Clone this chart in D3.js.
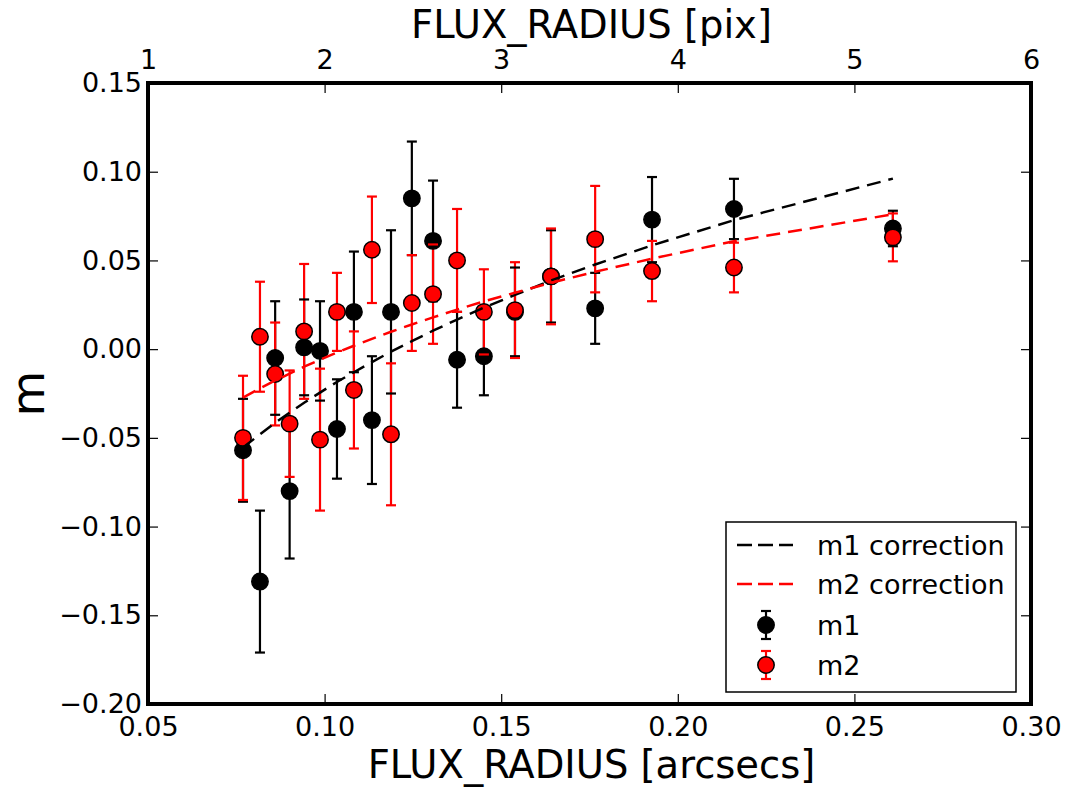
<!DOCTYPE html>
<html>
<head>
<meta charset="utf-8">
<script src="https://cdn.jsdelivr.net/npm/d3@7"></script>
<style>
  html, body { margin: 0; padding: 0; background: #fff; }
  svg { display: block; font-family: "DejaVu Sans", sans-serif; }
</style>
</head>
<body>
<svg id="chart" width="1067" height="787"></svg>
<script>
// ---- data ----
const fluxRadius = [0.0769, 0.0817, 0.0860, 0.0901, 0.0942, 0.0987, 0.1035, 0.1083, 0.1134, 0.1188,
                    0.1247, 0.1307, 0.1375, 0.1451, 0.1539, 0.1641, 0.1766, 0.1927, 0.2159, 0.2609];
const m1Values = [-0.057, -0.131, -0.005, -0.080, 0.001, -0.001, -0.045, 0.021, -0.040, 0.021,
                  0.085, 0.061, -0.006, -0.004, 0.021, 0.041, 0.023, 0.073, 0.079, 0.068];
const m1Errors = [0.029, 0.040, 0.032, 0.038, 0.027, 0.028, 0.028, 0.034, 0.036, 0.046,
                  0.032, 0.034, 0.027, 0.022, 0.025, 0.026, 0.020, 0.024, 0.017, 0.010];
const m2Values = [-0.050, 0.007, -0.014, -0.042, 0.010, -0.051, 0.021, -0.023, 0.056, -0.048,
                  0.026, 0.031, 0.050, 0.021, 0.022, 0.041, 0.062, 0.044, 0.046, 0.063];
const m2Errors = [0.035, 0.031, 0.029, 0.030, 0.038, 0.040, 0.022, 0.033, 0.030, 0.040,
                  0.027, 0.028, 0.029, 0.024, 0.027, 0.027, 0.030, 0.017, 0.014, 0.0135];
const m1Correction = [-0.0554, -0.0480, -0.0415, -0.0358, -0.0302, -0.0245, -0.0185, -0.0130, -0.0073, -0.0014,
                      0.0045, 0.0104, 0.0167, 0.0234, 0.0306, 0.0387, 0.0477, 0.0585, 0.0727, 0.0961];
const m2Correction = [-0.0273, -0.0221, -0.0177, -0.0138, -0.0099, -0.0060, -0.0019, 0.0019, 0.0058, 0.0098,
                      0.0139, 0.0179, 0.0223, 0.0269, 0.0318, 0.0374, 0.0436, 0.0510, 0.0608, 0.0760];

const xTicks = [0.05, 0.10, 0.15, 0.20, 0.25, 0.30];
const xTickLabels = ["0.05", "0.10", "0.15", "0.20", "0.25", "0.30"];
const pixTicks = [1, 2, 3, 4, 5, 6];
const pixTickLabels = ["1", "2", "3", "4", "5", "6"];
const yTicks = [-0.20, -0.15, -0.10, -0.05, 0.00, 0.05, 0.10, 0.15];
const yTickLabels = ["\u22120.20", "\u22120.15", "\u22120.10", "\u22120.05", "0.00", "0.05", "0.10", "0.15"];
const legendLabels = ["m1 correction", "m2 correction", "m1", "m2"];

// ---- layout ----
const L = 148, R = 1031, T = 83, B = 704;
const svg = d3.select("#chart");

const x = d3.scaleLinear().domain([0.05, 0.30]).range([L, R]);
const xPix = d3.scaleLinear().domain([1, 6]).range([L, R]);
const y = d3.scaleLinear().domain([-0.20, 0.15]).range([B, T]);

const FONT = 27;

// axes
const gB = svg.append("g").attr("transform", `translate(0,${B})`)
  .call(d3.axisBottom(x).tickValues(xTicks).tickFormat((d, i) => xTickLabels[i])
        .tickSizeInner(-10).tickSizeOuter(0).tickPadding(13));
const gT = svg.append("g").attr("transform", `translate(0,${T})`)
  .call(d3.axisTop(xPix).tickValues(pixTicks).tickFormat((d, i) => pixTickLabels[i])
        .tickSizeInner(-10).tickSizeOuter(0).tickPadding(14));
const gL = svg.append("g").attr("transform", `translate(${L},0)`)
  .call(d3.axisLeft(y).tickValues(yTicks).tickFormat((d, i) => yTickLabels[i])
        .tickSizeInner(-10).tickSizeOuter(0).tickPadding(6));
const gR = svg.append("g").attr("transform", `translate(${R},0)`)
  .call(d3.axisRight(y).tickValues(yTicks).tickFormat("")
        .tickSizeInner(-10).tickSizeOuter(0));
[gB, gT, gL, gR].forEach(g => {
  g.select(".domain").remove();
  g.selectAll(".tick line").attr("stroke", "#000").attr("stroke-width", 1.2);
  g.selectAll(".tick text").attr("font-size", FONT).attr("fill", "#000")
    .attr("font-family", "DejaVu Sans, sans-serif");
});

// axis titles
svg.append("text").attr("x", (L + R) / 2 + 2).attr("y", 778).attr("text-anchor", "middle")
  .attr("font-size", 38.5).text("FLUX_RADIUS [arcsecs]");
svg.append("text").attr("x", (L + R) / 2 + 2).attr("y", 38).attr("text-anchor", "middle")
  .attr("font-size", 38.5).text("FLUX_RADIUS [pix]");
svg.append("text").attr("transform", `translate(44,${(T + B) / 2}) rotate(-90)`)
  .attr("text-anchor", "middle").attr("font-size", 47).text("m");

// data
const plot = svg.append("g");
const series = [
  { vals: m1Values, errs: m1Errors, color: "#000000" },
  { vals: m2Values, errs: m2Errors, color: "#ff0000" }
];
const CAP = 5, RAD = 8.2;

// bars first (collections)
series.forEach(s => {
  plot.append("g").selectAll("line").data(fluxRadius).join("line")
    .attr("x1", d => x(d)).attr("x2", d => x(d))
    .attr("y1", (d, i) => y(s.vals[i] + s.errs[i]))
    .attr("y2", (d, i) => y(s.vals[i] - s.errs[i]))
    .attr("stroke", s.color).attr("stroke-width", 2.2);
});
// markers + caps
series.forEach(s => {
  plot.append("g").selectAll("circle").data(fluxRadius).join("circle")
    .attr("cx", d => x(d)).attr("cy", (d, i) => y(s.vals[i]))
    .attr("r", RAD).attr("fill", s.color).attr("stroke", "#000").attr("stroke-width", 1.5);
  const caps = plot.append("g");
  [1, -1].forEach(sign => {
    caps.append("g").selectAll("line").data(fluxRadius).join("line")
      .attr("x1", d => x(d) - CAP).attr("x2", d => x(d) + CAP)
      .attr("y1", (d, i) => y(s.vals[i] + sign * s.errs[i]))
      .attr("y2", (d, i) => y(s.vals[i] + sign * s.errs[i]))
      .attr("stroke", s.color).attr("stroke-width", 2.2);
  });
});

// correction lines
const DASH = "14,8";
[[m1Correction, "#000000"], [m2Correction, "#ff0000"]].forEach(([vals, col]) => {
  const line = d3.line().x(d => x(d[0])).y(d => y(d[1]));
  plot.append("path").datum(fluxRadius.map((d, i) => [d, vals[i]]))
    .attr("d", line).attr("fill", "none").attr("stroke", col)
    .attr("stroke-width", 2.5).attr("stroke-dasharray", DASH);
});

// frame
svg.append("rect").attr("x", L).attr("y", T).attr("width", R - L).attr("height", B - T)
  .attr("fill", "none").attr("stroke", "#000").attr("stroke-width", 4);

// legend
const lg = svg.append("g");
lg.append("rect").attr("x", 726).attr("y", 522).attr("width", 290).attr("height", 170)
  .attr("fill", "#fff").attr("stroke", "#000").attr("stroke-width", 1.5);
const rowsY = [545, 584, 625, 665];
const rowColors = ["#000000", "#ff0000", "#000000", "#ff0000"];
legendLabels.forEach((lab, i) => {
  const cy = rowsY[i];
  if (i < 2) {
    lg.append("line").attr("x1", 737).attr("x2", 793).attr("y1", cy).attr("y2", cy)
      .attr("stroke", rowColors[i]).attr("stroke-width", 2.5).attr("stroke-dasharray", "15,6");
  } else {
    const cx = 766;
    lg.append("line").attr("x1", cx).attr("x2", cx).attr("y1", cy - 14).attr("y2", cy + 14)
      .attr("stroke", rowColors[i]).attr("stroke-width", 2.2);
    [-14, 14].forEach(o => lg.append("line").attr("x1", cx - CAP).attr("x2", cx + CAP)
      .attr("y1", cy + o).attr("y2", cy + o).attr("stroke", rowColors[i]).attr("stroke-width", 2.2));
    lg.append("circle").attr("cx", cx).attr("cy", cy).attr("r", RAD)
      .attr("fill", rowColors[i]).attr("stroke", "#000").attr("stroke-width", 1.5);
  }
  lg.append("text").attr("x", 817).attr("y", cy).attr("dy", "0.36em")
    .attr("font-size", FONT).text(lab);
});
</script>
</body>
</html>
